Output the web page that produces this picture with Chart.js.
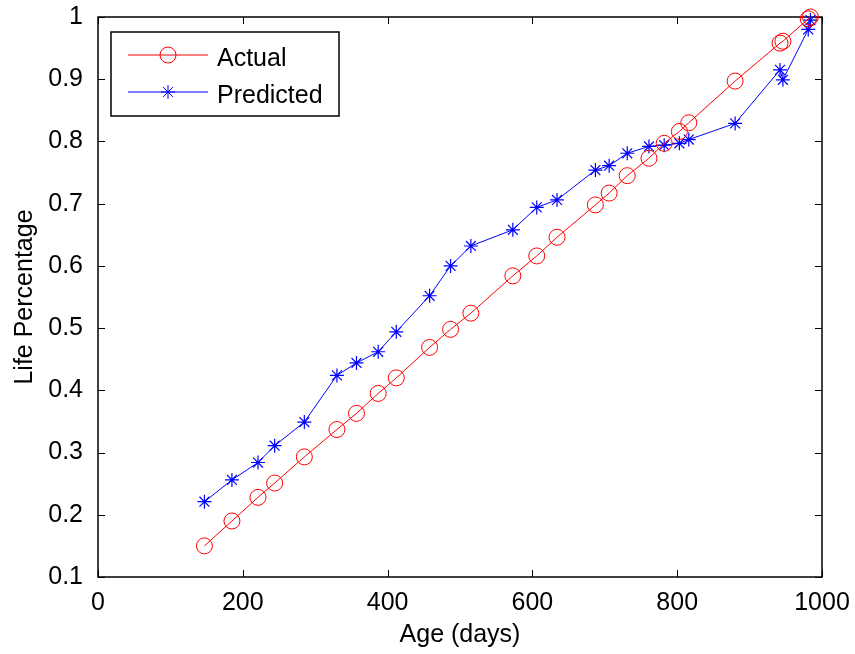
<!DOCTYPE html>
<html>
<head>
<meta charset="utf-8">
<script src="https://cdn.jsdelivr.net/npm/chart.js@4/dist/chart.umd.min.js"></script>
<style>
  body { margin: 0; background: #fff; }
</style>
</head>
<body>
<canvas id="lifeChart" width="855" height="654"></canvas>
<script>
// values
const ageDays = [147, 185, 221, 244, 285, 330, 357, 387, 412, 458, 487, 515, 573, 606, 634,
                 687, 706, 731, 761, 782, 803, 816, 880, 942, 946, 981, 984];
const actual = [0.150, 0.190, 0.228, 0.251, 0.293, 0.337, 0.363, 0.395, 0.420, 0.469, 0.498,
                0.524, 0.584, 0.616, 0.646, 0.698, 0.717, 0.745, 0.773, 0.797, 0.816, 0.830,
                0.897, 0.958, 0.961, 0.997, 1.000];
const predicted = [0.221, 0.256, 0.284, 0.311, 0.349, 0.424, 0.444, 0.462, 0.494, 0.552, 0.600,
                   0.632, 0.658, 0.694, 0.706, 0.754, 0.761, 0.781, 0.792, 0.794, 0.797, 0.803,
                   0.829, 0.915, 0.899, 0.980, 0.995];
const xTicks = [0, 200, 400, 600, 800, 1000];
const yTicks = [0.1, 0.2, 0.3, 0.4, 0.5, 0.6, 0.7, 0.8, 0.9, 1];
const seriesNames = ['Actual', 'Predicted'];

const FONT = "'Liberation Sans', Arial, sans-serif";

// matlab-like box with ticks pointing inward
const boxPlugin = {
  id: 'boxPlugin',
  beforeDatasetsDraw(chart) {
    const { ctx, chartArea: a, scales: { x, y } } = chart;
    const len = 7;
    ctx.save();
    ctx.strokeStyle = '#000';
    ctx.lineWidth = 1;
    ctx.beginPath();
    x.ticks.forEach((t, i) => {
      const px = Math.round(x.getPixelForTick(i)) + 0.5;
      ctx.moveTo(px, a.bottom); ctx.lineTo(px, a.bottom - len);
      ctx.moveTo(px, a.top); ctx.lineTo(px, a.top + len);
    });
    y.ticks.forEach((t, i) => {
      const py = Math.round(y.getPixelForTick(i)) + 0.5;
      ctx.moveTo(a.left, py); ctx.lineTo(a.left + len, py);
      ctx.moveTo(a.right, py); ctx.lineTo(a.right - len, py);
    });
    ctx.stroke();
    ctx.lineWidth = 1.5;
    ctx.strokeRect(a.left, a.top, a.right - a.left, a.bottom - a.top);
    ctx.restore();
  }
};

// legend box drawn inside the plot, top-left
const insideLegend = {
  id: 'insideLegend',
  afterDatasetsDraw(chart) {
    const { ctx, chartArea: a } = chart;
    const bx = a.left + 13, by = a.top + 15, bw = 228, bh = 84;
    ctx.save();
    ctx.fillStyle = '#fff';
    ctx.fillRect(bx, by, bw, bh);
    ctx.strokeStyle = '#000';
    ctx.lineWidth = 1.5;
    ctx.strokeRect(bx, by, bw, bh);
    chart.data.datasets.forEach((ds, i) => {
      const rowY = by + 23 + i * 37;
      ctx.strokeStyle = ds.borderColor;
      ctx.lineWidth = 1;
      ctx.beginPath();
      ctx.moveTo(bx + 17, rowY);
      ctx.lineTo(bx + 97, rowY);
      ctx.stroke();
      ctx.fillStyle = 'rgba(0,0,0,0)';
      Chart.helpers.drawPoint(ctx, {
        pointStyle: ds.pointStyle, radius: ds.pointRadius, rotation: 0, borderWidth: 1
      }, bx + 57, rowY);
      ctx.fillStyle = '#000';
      ctx.font = '25px ' + FONT;
      ctx.textBaseline = 'alphabetic';
      ctx.fillText(ds.label, bx + 106, rowY + 10.5);
    });
    ctx.restore();
  }
};

const ctx = document.getElementById('lifeChart').getContext('2d');
new Chart(ctx, {
  type: 'line',
  data: {
    datasets: [
      {
        label: seriesNames[0],
        data: ageDays.map((d, i) => ({ x: d, y: actual[i] })),
        borderColor: '#ff0000',
        backgroundColor: 'rgba(0,0,0,0)',
        pointStyle: 'circle',
        pointRadius: 8,
        pointBorderWidth: 1,
        borderWidth: 1,
        clip: false
      },
      {
        label: seriesNames[1],
        data: ageDays.map((d, i) => ({ x: d, y: predicted[i] })),
        borderColor: '#0000ff',
        backgroundColor: 'rgba(0,0,0,0)',
        pointStyle: 'star',
        pointRadius: 7,
        pointBorderWidth: 1.2,
        borderWidth: 1,
        clip: false
      }
    ]
  },
  options: {
    responsive: false,
    animation: false,
    layout: { padding: { top: 17, right: 33, left: 0, bottom: 0 } },
    plugins: {
      legend: { display: false },
      tooltip: { enabled: false }
    },
    scales: {
      x: {
        type: 'linear',
        min: 0,
        max: 1000,
        afterBuildTicks: s => { s.ticks = xTicks.map(v => ({ value: v })); },
        afterFit: s => { s.height = 77; },
        grid: { display: false },
        border: { display: false },
        ticks: { color: '#000', padding: 3, font: { family: FONT, size: 25 }, callback: v => String(v) },
        title: { display: true, text: 'Age (days)', color: '#000', padding: { top: 3 }, font: { family: FONT, size: 25 } }
      },
      y: {
        min: 0.1,
        max: 1,
        afterBuildTicks: s => { s.ticks = yTicks.map(v => ({ value: v })); },
        afterFit: s => { s.width = 98; },
        grid: { display: false },
        border: { display: false },
        // small lineHeight so the top label doesn't push the plot area down
        ticks: { color: '#000', padding: 7, font: { family: FONT, size: 25, lineHeight: 0.8 }, callback: v => String(v) },
        title: { display: true, text: 'Life Percentage', color: '#000', padding: { top: 10 }, font: { family: FONT, size: 25 } }
      }
    }
  },
  plugins: [boxPlugin, insideLegend]
});
</script>
</body>
</html>
